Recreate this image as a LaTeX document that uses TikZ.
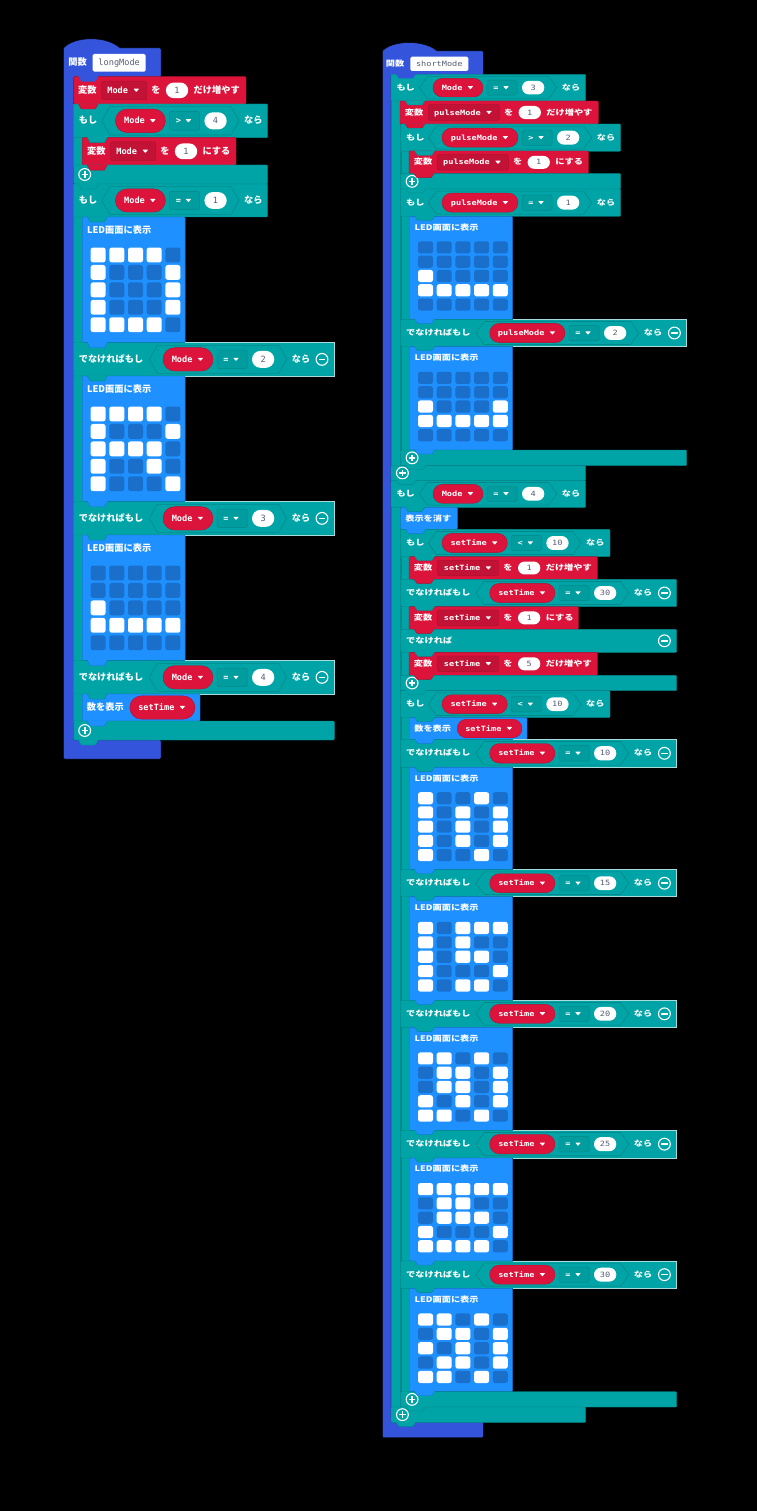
\documentclass[tikz,border=0pt]{standalone}
\usepackage{fontspec}
\newfontfamily\jpfont{Noto Sans CJK JP}
\newfontfamily\codefont{DejaVu Sans Mono}
\pgfdeclarelayer{tabs}
\pgfsetlayers{main,tabs}
\definecolor{funcblue}{HTML}{3455DB}
\definecolor{logic}{HTML}{00A4A6}
\definecolor{logicdark}{HTML}{008A8C}
\definecolor{logicedge}{HTML}{A8DCDC}
\definecolor{logicfield}{HTML}{009C9E}
\definecolor{varred}{HTML}{DC143C}
\definecolor{varfield}{HTML}{C21236}
\definecolor{vardark}{HTML}{B01030}
\definecolor{basic}{HTML}{1E90FF}
\definecolor{basicdark}{HTML}{1A78D6}
\definecolor{led0}{HTML}{1A6FCB}
\definecolor{led1}{HTML}{FFFFFF}
\definecolor{valgrey}{HTML}{575E75}
\tikzset{
    funcblock/.style={fill=funcblue},
    logicblock/.style={fill=logic,draw=logicdark,line width=.4pt},
    varblock/.style={fill=varred,draw=vardark,line width=.4pt},
    basicblock/.style={fill=basic,draw=basicdark,line width=.4pt},
    squash/.style={yscale=\textsy,transform shape,inner sep=0pt},
    jptext/.style={squash,text=white,font=\jpfont\bfseries\fontsize{9.2}{11}\selectfont},
    codetext/.style={squash,text=white,font=\codefont\bfseries\fontsize{8.6}{10}\selectfont},
    valtext/.style={squash,text=valgrey,font=\codefont\fontsize{8.6}{10}\selectfont},
    icon/.style={draw=white,line width=1.1pt},
}
\def\textsy{1}
\def\tabd{5}
\newcommand{\putlabel}[5]{\path ({#3},{#4+3*\textsy}) node[#1,anchor=#2] {#5};}
\newcommand{\tabshape}[3]{
    \begin{pgfonlayer}{tabs}
        \path[#1,draw=none] (#2+5,#3-.6) -- (#2+8,#3+\tabd) -- (#2+22,#3+\tabd) -- (#2+25,#3-.6) -- cycle;
        \path[#1,fill=none] (#2+5,#3) -- (#2+8,#3+\tabd) -- (#2+22,#3+\tabd) -- (#2+25,#3);
    \end{pgfonlayer}
}
\newcommand{\blockbox}[6]{
    \path[#1,rounded corners=1pt] (#2,#3) rectangle (#4,#5);
    \tabshape{#1}{#6}{#5}
}
\newcommand{\dropmark}[2]{
    \fill[white,rounded corners=.4pt] (#1-2.8,#2-1.6) -- (#1+2.8,#2-1.6) -- (#1,#2+1.7) -- cycle;
}
\newcommand{\varpill}[5]{
    \pgfmathsetmacro\pillr{#4/2}
    \filldraw[varred,draw=vardark,line width=.4pt,rounded corners=\pillr pt] (#1,#3-\pillr) rectangle (#2,#3+\pillr);
    \putlabel{codetext}{base east}{#2-20.3}{#3}{#5}
    \dropmark{#2-12.6}{#3}
}
\newcommand{\valoval}[4]{
    \pgfmathsetmacro\ovalr{#3/2}
    \fill[white,rounded corners=\ovalr pt] (#1,#2-\ovalr) rectangle (#1+22.3,#2+\ovalr);
    \putlabel{valtext}{base}{#1+11.1}{#2}{#4}
}
\newcommand{\plusicon}[2]{
    \draw[icon] (#1,#2) circle (5.9);
    \draw[white,line width=1.6pt] (#1-3.2,#2) -- (#1+3.2,#2) (#1,#2-3.2) -- (#1,#2+3.2);
}
\newcommand{\minusicon}{
    \pgfmathsetmacro\minusx{\rowend-12.3}
    \draw[icon] (\minusx,\rowyc) circle (5.9);
    \draw[white,line width=1.6pt] (\minusx-3.4,\rowyc) -- (\minusx+3.4,\rowyc);
}
% light rim of a row that stands free beside an LED block
\newcommand{\rowedge}{
    \draw[logicedge,line width=.5pt] (\rowstart+112,\rowtop) -- (\rowend,\rowtop) -- (\rowend,\rowbot) -- (\rowstart+112,\rowbot);
}
% condition row: box and first word, then \compare fills it
\newcommand{\ifrow}[5]{
    \pgfmathsetmacro\rowyc{(#2+#4)/2}
    \pgfmathsetmacro\rowh{#4-#2}
    \pgfmathsetmacro\rowend{#3}
    \pgfmathsetmacro\rowtab{#1+9}
    \def\rowstart{#1}
    \def\rowtop{#2}
    \def\rowbot{#4}
    \blockbox{logicblock}{#1}{#2}{#3}{#4}{\rowtab}
    \putlabel{jptext}{base west}{#1+5.3}{\rowyc}{#5}
}
\newcommand{\compare}[5]{
    \pgfmathsetmacro\pillx{#1+13.7}
    \pgfmathsetmacro\pillend{\pillx+#2}
    \pgfmathsetmacro\opx{\pillend+4}
    \pgfmathsetmacro\valx{\opx+35}
    \pgfmathsetmacro\hexend{\valx+34.7}
    \pgfmathsetmacro\hexh{\rowh*.42}
    \pgfmathsetmacro\oph{\rowh*.28}
    \filldraw[fill=logic,draw=logicdark,line width=.6pt] (#1,\rowyc) -- (#1+8,\rowyc-\hexh) -- (\hexend-8,\rowyc-\hexh) -- (\hexend,\rowyc) -- (\hexend-8,\rowyc+\hexh) -- (#1+8,\rowyc+\hexh) -- cycle;
    \pgfmathsetmacro\pillh{\rowh*.7}
    \varpill{\pillx}{\pillend}{\rowyc}{\pillh}{#3}
    \filldraw[fill=logicfield,draw=logicdark,line width=.5pt,rounded corners=1.5pt] (\opx,\rowyc-\oph) rectangle (\opx+30,\rowyc+\oph);
    \putlabel{codetext}{base}{\opx+9}{\rowyc}{#4}
    \dropmark{\opx+19}{\rowyc}
    \pgfmathsetmacro\valh{\rowh*.51}
    \valoval{\valx}{\rowyc}{\valh}{#5}
    \putlabel{jptext}{base}{\hexend+14.3}{\rowyc}{なら}
}
\newcommand{\setrow}[8]{
    \pgfmathsetmacro\rowyc{(#2+#4)/2}
    \pgfmathsetmacro\rowh{#4-#2}
    \pgfmathsetmacro\fieldx{#1+28.3}
    \pgfmathsetmacro\fieldend{\fieldx+#6}
    \pgfmathsetmacro\fieldh{\rowh*.34}
    \pgfmathsetmacro\valx{\fieldend+19.3}
    \pgfmathsetmacro\valh{\rowh*.57}
    \blockbox{varblock}{#1}{#2}{#3}{#4}{#1}
    \putlabel{jptext}{base}{#1+14}{\rowyc}{変数}
    \filldraw[fill=varfield,draw=vardark,line width=.4pt,rounded corners=1.5pt] (\fieldx,\rowyc-\fieldh) rectangle (\fieldend,\rowyc+\fieldh);
    \putlabel{codetext}{base east}{\fieldend-18.3}{\rowyc}{#5}
    \dropmark{\fieldend-10.3}{\rowyc}
    \putlabel{jptext}{base}{\fieldend+9.3}{\rowyc}{を}
    \valoval{\valx}{\rowyc}{\valh}{#7}
    \putlabel{jptext}{base west}{\valx+27.6}{\rowyc}{#8}
}
\newcommand{\closebar}[4]{
    \pgfmathsetmacro\rowyc{(#2+#4)/2}
    \blockbox{logicblock}{#1}{#2}{#3}{#4}{#1}
    \plusicon{#1+11.4}{\rowyc}
}
\newcommand{\ledblock}[4]{
    \pgfmathsetmacro\ledh{#3-#2}
    \pgfmathsetmacro\ledpitch{\ledh*.1388}
    \pgfmathsetmacro\ledfirst{#2+\ledh*.302}
    \pgfmathsetmacro\ledhalf{\ledh*.059}
    \blockbox{basicblock}{#1}{#2}{#1+102.8}{#3}{#1}
    \putlabel{jptext}{base west}{#1+4.7}{#2+\ledh*.11}{LED画面に表示}
    \foreach \ledrow [count=\j from 0] in {#4}
    \foreach \led [count=\i from 0] in \ledrow
    {
        \fill[led\led,rounded corners=2.4pt] (#1+8.3+18.7*\i,\ledfirst+\ledpitch*\j-\ledhalf) rectangle +(15,2*\ledhalf);
    }
}
\newcommand{\shownumber}[5]{
    \pgfmathsetmacro\rowyc{(#2+#4)/2}
    \pgfmathsetmacro\pillh{(#4-#2)*.86}
    \blockbox{basicblock}{#1}{#2}{#3}{#4}{#1}
    \putlabel{jptext}{base west}{#1+4.4}{\rowyc}{数を表示}
    \varpill{#1+47.5}{#3-5}{\rowyc}{\pillh}{#5}
}
\newcommand{\armblock}[3]{\path[logicblock] (#1,#2) rectangle (#1+9.5,#3);}
\newcommand{\funcname}[6]{
    \pgfmathsetmacro\rowyc{(#3+#4)/2}
    \fill[white,rounded corners=1.5pt] (#1,#3) rectangle (#2,#4);
    \putlabel{valtext}{base}{(#1+#2)/2}{\rowyc}{#6}
    \putlabel{jptext}{base}{#5}{\rowyc}{関数}
}
\begin{document}
\begin{tikzpicture}[x=1pt,y=-1pt]
    \useasboundingbox (0,0) rectangle (756,1511);
    \fill[black] (-3,-3) rectangle (759,1514);

    % longMode
    \filldraw[funcblock,rounded corners=1pt] (63.5,48) .. controls (76,36) and (106,36) .. (120,48) -- (161,48) -- (161,77) -- (73.3,77) -- (73.3,740) -- (161,740) -- (161,759) -- (63.5,759) -- cycle;
    \funcname{92.7}{145.7}{54}{71.7}{77.5}{longMode}
    \tabshape{funcblock}{73.3}{76.7}
    \setrow{73.3}{76.7}{246}{104}{Mode}{45}{1}{だけ増やす}
    \armblock{73.3}{104}{165}
    \ifrow{73.3}{104}{267.7}{137.7}{もし}
    \compare{101.7}{50}{Mode}{>}{4}
    \setrow{82.3}{137.5}{236}{165.2}{Mode}{45}{1}{にする}
    \closebar{73.3}{165}{267.7}{184}
    \armblock{73.3}{184}{721}
    \ifrow{73.3}{184}{267.7}{217}{もし}
    \compare{101.7}{50}{Mode}{=}{1}
    \ledblock{82.3}{217}{342.7}{{1,1,1,1,0},{1,0,0,0,1},{1,0,0,0,1},{1,0,0,0,1},{1,1,1,1,0}}
    \ifrow{73.3}{342.7}{334.3}{376}{でなければもし}
    \compare{149.3}{50}{Mode}{=}{2}
    \minusicon
    \rowedge
    \ledblock{82.3}{376}{501.7}{{1,1,1,1,0},{1,0,0,0,1},{1,1,1,1,0},{1,0,0,1,0},{1,0,0,0,1}}
    \ifrow{73.3}{501.7}{334.3}{535}{でなければもし}
    \compare{149.3}{50}{Mode}{=}{3}
    \minusicon
    \rowedge
    \ledblock{82.3}{535}{660.7}{{0,0,0,0,0},{0,0,0,0,0},{1,0,0,0,0},{1,1,1,1,1},{0,0,0,0,0}}
    \ifrow{73.3}{660.7}{334.3}{694}{でなければもし}
    \compare{149.3}{50}{Mode}{=}{4}
    \minusicon
    \rowedge
    \shownumber{82.3}{694}{200}{721}{setTime}
    \closebar{73.3}{721}{334.3}{740}

    % shortMode
    \def\textsy{.84}
    \def\tabd{4}
    \filldraw[funcblock,rounded corners=1pt] (382.3,51) .. controls (394,40) and (424,40) .. (437,51) -- (483.3,51) -- (483.3,75) -- (391,75) -- (391,1422) -- (483.3,1422) -- (483.3,1437.7) -- (382.3,1437.7) -- cycle;
    \funcname{410.3}{468.3}{56.7}{71}{395}{shortMode}
    \tabshape{funcblock}{391}{74.3}
    \armblock{391}{74.3}{465.7}
    \ifrow{391}{74.3}{585.7}{101}{もし}
    \compare{419.3}{50}{Mode}{=}{3}
    \setrow{400}{101}{598.3}{124}{pulseMode}{71}{1}{だけ増やす}
    \armblock{400.7}{124}{173.7}
    \ifrow{400.7}{124}{620.7}{151.3}{もし}
    \compare{428.3}{76}{pulseMode}{>}{2}
    \setrow{409}{151}{588.3}{173.7}{pulseMode}{71}{1}{にする}
    \closebar{400.7}{173.7}{620.7}{189}
    \armblock{400.7}{189}{450}
    \ifrow{400.7}{189}{620.7}{216.3}{もし}
    \compare{428.3}{76}{pulseMode}{=}{1}
    \ledblock{409.7}{216.3}{319.3}{{0,0,0,0,0},{0,0,0,0,0},{1,0,0,0,0},{1,1,1,1,1},{0,0,0,0,0}}
    \ifrow{400.7}{319.3}{686.7}{346.7}{でなければもし}
    \compare{476}{75.3}{pulseMode}{=}{2}
    \minusicon
    \rowedge
    \ledblock{409.7}{346.7}{450}{{0,0,0,0,0},{0,0,0,0,0},{1,0,0,0,1},{1,1,1,1,1},{0,0,0,0,0}}
    \closebar{400.7}{450}{686.7}{465.7}
    \closebar{391}{465.7}{585.7}{480.3}

    \armblock{391}{480.3}{1407}
    \ifrow{391}{480.3}{585.7}{507.3}{もし}
    \compare{419.3}{50}{Mode}{=}{4}
    \blockbox{basicblock}{400.7}{507.3}{457.3}{529.3}{400.7}
    \putlabel{jptext}{base}{428.3}{518.5}{表示を消す}

    \armblock{400.7}{529.3}{675.3}
    \ifrow{400.7}{529.3}{610}{556.7}{もし}
    \compare{428.3}{65.3}{setTime}{<}{10}
    \setrow{409}{556.7}{597.3}{579.3}{setTime}{61.4}{1}{だけ増やす}
    \ifrow{400.7}{579.3}{676.7}{606.7}{でなければもし}
    \compare{476}{65.3}{setTime}{=}{30}
    \minusicon
    \setrow{409}{606.5}{578.3}{629.3}{setTime}{61.4}{1}{にする}
    \ifrow{400.7}{629.3}{676.7}{652.3}{でなければ}
    \minusicon
    \setrow{409}{652.3}{597.3}{675.3}{setTime}{61.4}{5}{だけ増やす}
    \closebar{400.7}{675.3}{676.7}{690.7}

    \armblock{400.7}{690.7}{1391.7}
    \ifrow{400.7}{690.7}{610}{717.7}{もし}
    \compare{428.3}{65.3}{setTime}{<}{10}
    \shownumber{409.7}{717.7}{527}{739.3}{setTime}
    \ifrow{400.7}{739.3}{676.7}{767.3}{でなければもし}
    \compare{476}{65.3}{setTime}{=}{10}
    \minusicon
    \rowedge
    \ledblock{409.7}{767.3}{869.7}{{1,0,0,1,0},{1,0,1,0,1},{1,0,1,0,1},{1,0,1,0,1},{1,0,0,1,0}}
    \ifrow{400.7}{869.7}{676.7}{896.7}{でなければもし}
    \compare{476}{65.3}{setTime}{=}{15}
    \minusicon
    \rowedge
    \ledblock{409.7}{896.7}{1000.3}{{1,0,1,1,1},{1,0,1,0,0},{1,0,1,1,0},{1,0,0,0,1},{1,0,1,1,0}}
    \ifrow{400.7}{1000.3}{676.7}{1027.3}{でなければもし}
    \compare{476}{65.3}{setTime}{=}{20}
    \minusicon
    \rowedge
    \ledblock{409.7}{1027.3}{1130.3}{{1,1,0,1,0},{0,1,1,0,1},{0,1,1,0,1},{1,0,1,0,1},{1,1,0,1,0}}
    \ifrow{400.7}{1130.3}{676.7}{1158}{でなければもし}
    \compare{476}{65.3}{setTime}{=}{25}
    \minusicon
    \rowedge
    \ledblock{409.7}{1158}{1261}{{1,1,1,1,1},{0,1,1,0,0},{0,1,1,1,0},{1,0,0,0,1},{1,1,1,1,0}}
    \ifrow{400.7}{1261}{676.7}{1288.3}{でなければもし}
    \compare{476}{65.3}{setTime}{=}{30}
    \minusicon
    \rowedge
    \ledblock{409.7}{1288.3}{1391.7}{{1,1,0,1,0},{0,1,1,0,1},{1,0,1,0,1},{0,1,1,0,1},{1,1,0,1,0}}
    \closebar{400.7}{1391.7}{676.7}{1407}
    \closebar{391}{1407}{585.7}{1422.3}
\end{tikzpicture}
\end{document}
